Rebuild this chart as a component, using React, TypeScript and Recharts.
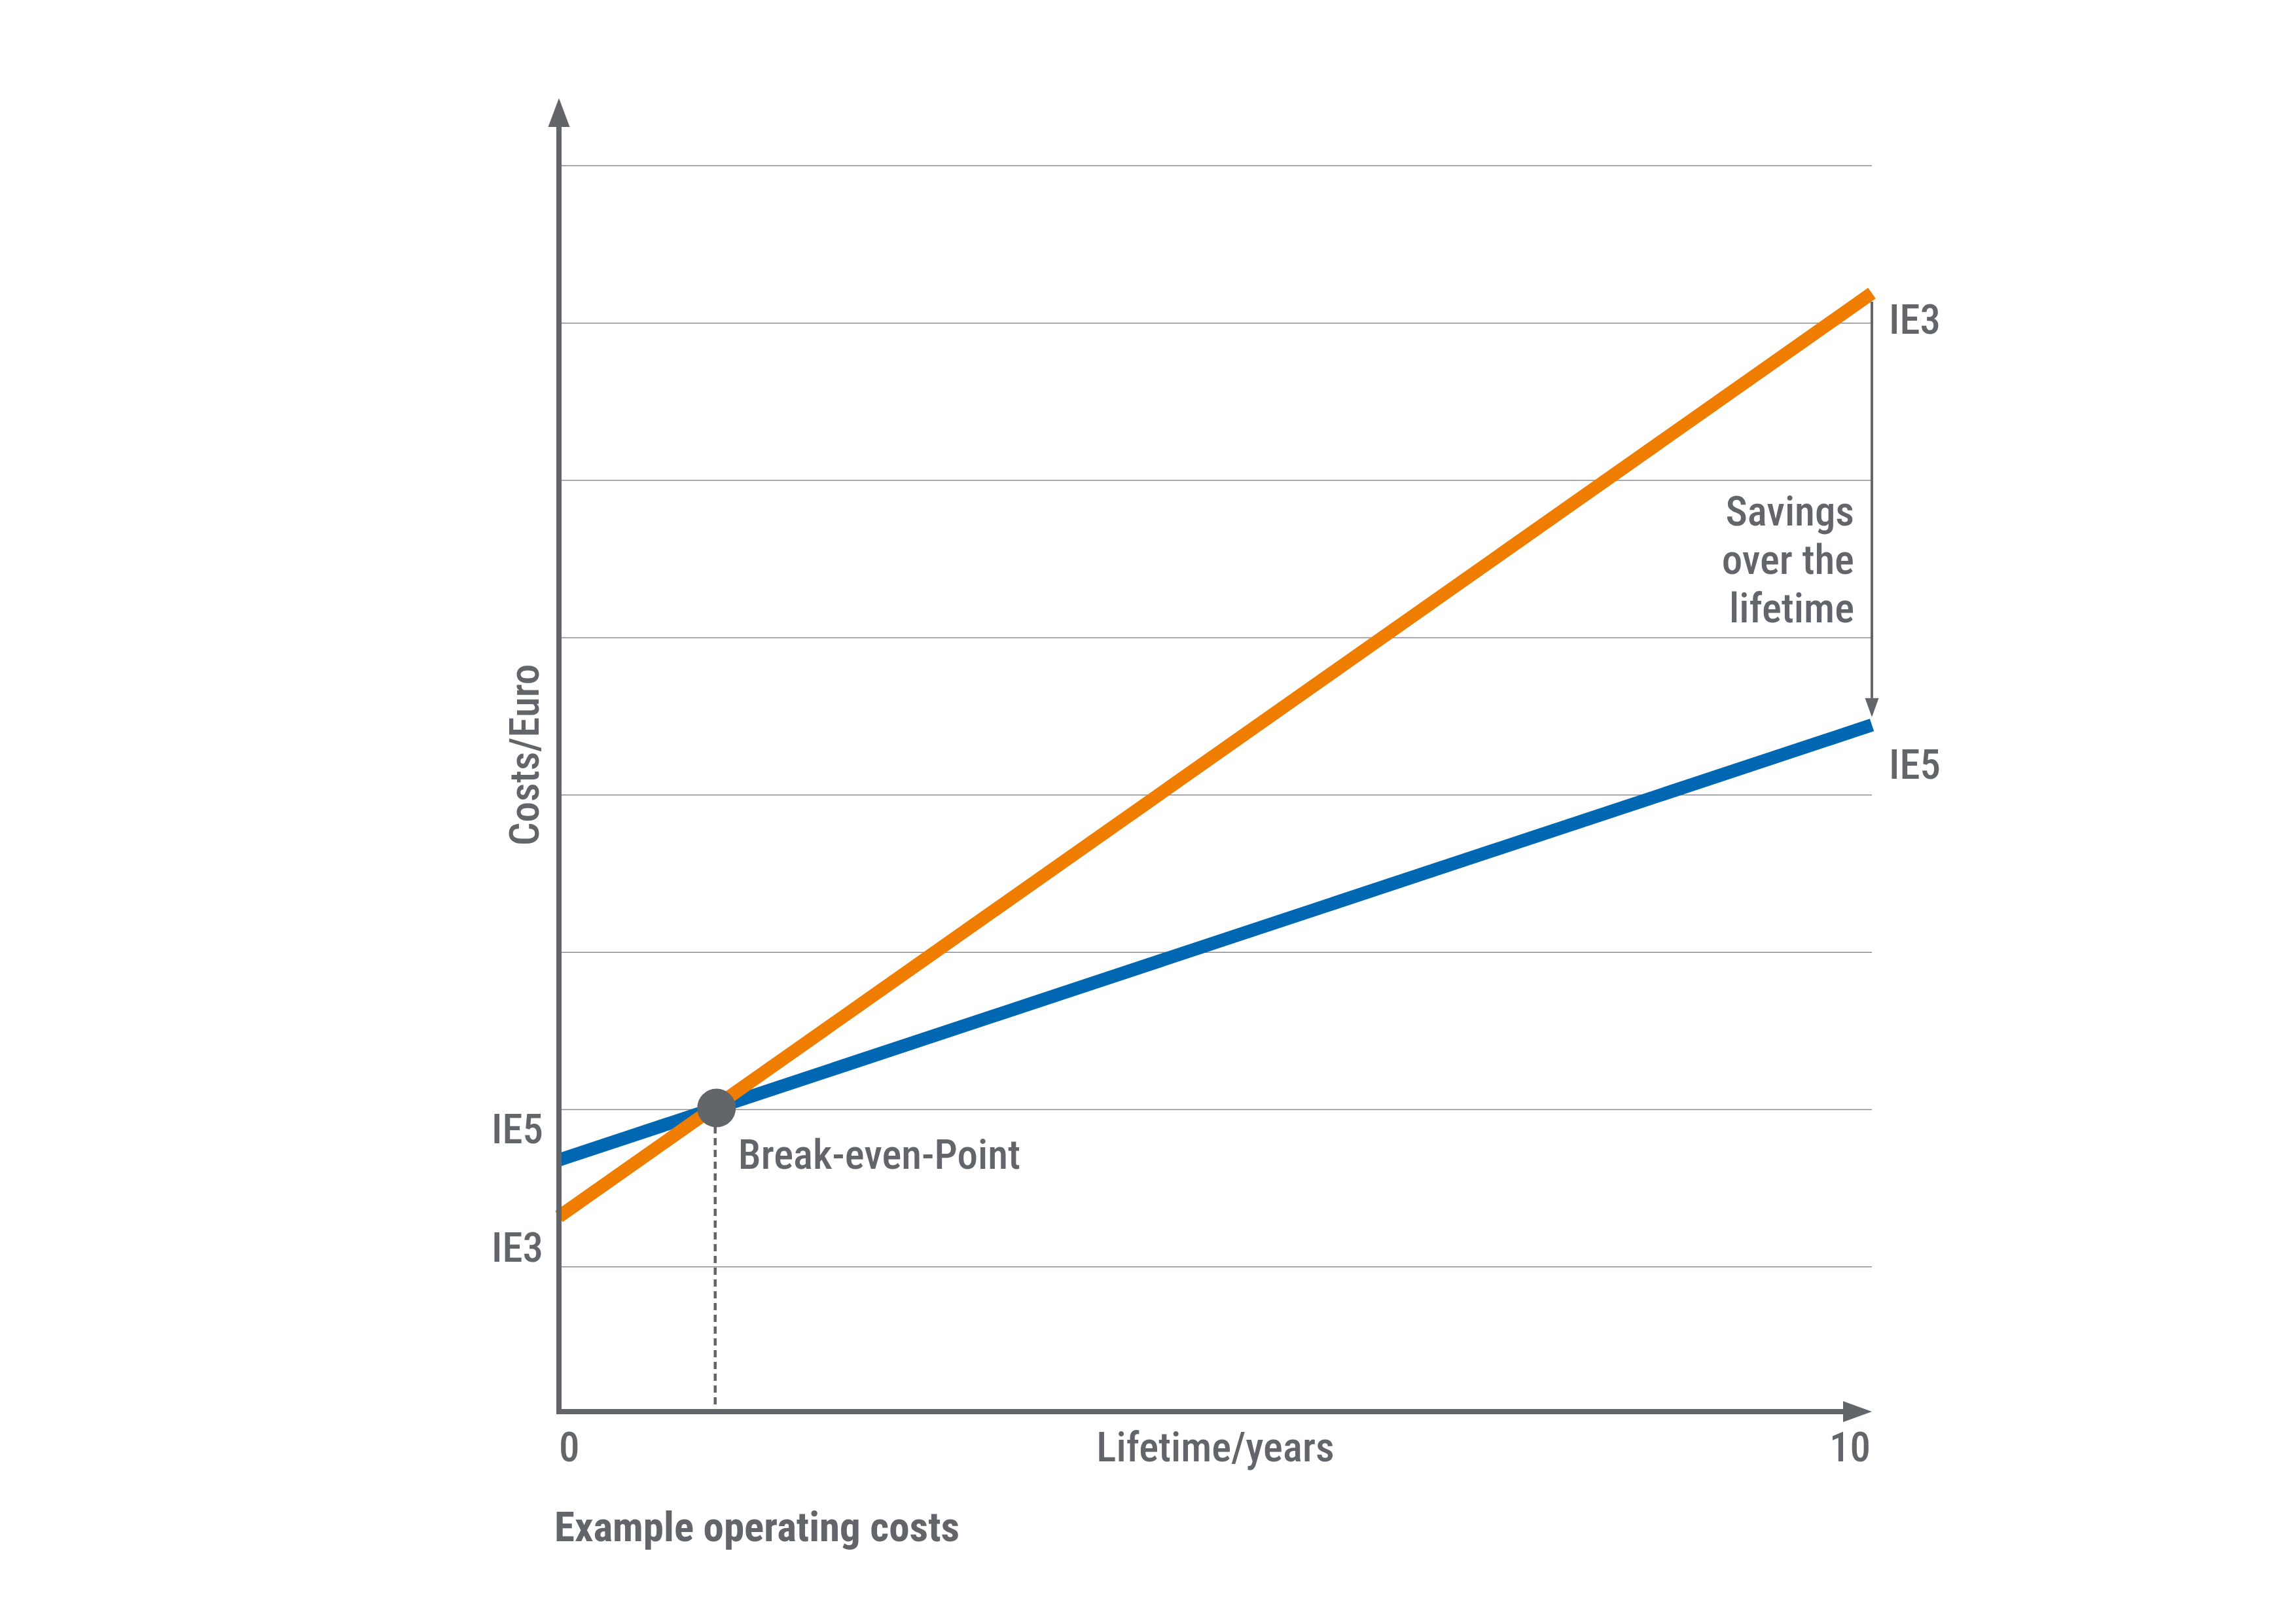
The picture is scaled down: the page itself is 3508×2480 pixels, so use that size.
import React from 'react';
import { LineChart, Line, XAxis, YAxis, CartesianGrid, ReferenceLine, ReferenceDot } from 'recharts';

// ---- data ----
const years = [0, 10];
const ie3Costs = [1320, 7190];
const ie5Costs = [1680, 4445];
const gridCosts = [1000, 2000, 3000, 4000, 5000, 6000, 7000, 8000];
const yearTicks = [0, 10];
const costDomain = [80, 8430];
const breakEvenYear = 1.2;
const breakEvenCost = 2010;
const seriesNames = ['IE3', 'IE5'];
const xAxisTitle = 'Lifetime/years';
const yAxisTitle = 'Costs/Euro';
const caption = 'Example operating costs';
const breakEvenLabel = 'Break-even-Point';
const savingsLabel = ['Savings', 'over the', 'lifetime'];

const data = years.map((y, i) => ({ year: y, ie3: ie3Costs[i], ie5: ie5Costs[i] }));

const ORANGE = '#ef7d00';
const BLUE = '#0067b2';
const GREY = '#62666a';
const GRID = '#8a8d90';
const FONT = '"Liberation Sans Narrow", "Arial Narrow", "Roboto Condensed", "DejaVu Sans Condensed", sans-serif';
const FS = 63;

const W = 3508;
const H = 2480;
const YW = 100;
const XH = 100;

const txt = (x: number, y: number, s: string, anchor: string = 'start', bold = false, key?: string) => (
  <text key={key} x={x} y={y} textAnchor={anchor} fill={GREY} fontFamily={FONT} fontSize={FS} fontWeight={bold ? 700 : 500}>
    {s}
  </text>
);

const YAxisShape = (p: any) => {
  const x = p.x1;
  const top = Math.min(p.y1, p.y2);
  const bottom = Math.max(p.y1, p.y2);
  return (
    <g>
      <line x1={x} x2={x} y1={top + 44} y2={bottom + 4} stroke={GREY} strokeWidth={8} />
      <polygon points={`${x},${top} ${x - 16.5},${top + 44} ${x + 16.5},${top + 44}`} fill={GREY} />
    </g>
  );
};

const XAxisShape = (p: any) => {
  const y = p.y1;
  const left = Math.min(p.x1, p.x2);
  const right = Math.max(p.x1, p.x2);
  return (
    <g>
      <line x1={left - 4} x2={right - 44} y1={y} y2={y} stroke={GREY} strokeWidth={8} />
      <polygon points={`${right},${y} ${right - 44},${y - 16} ${right - 44},${y + 16}`} fill={GREY} />
    </g>
  );
};

const DashShape = (p: any) => (
  <line
    x1={p.x1 - 2}
    x2={p.x2 - 2}
    y1={Math.min(p.y1, p.y2) + 28}
    y2={Math.max(p.y1, p.y2) - 4}
    stroke={GREY}
    strokeWidth={4.5}
    strokeDasharray="11 7"
  />
);

const SavingsShape = (p: any) => {
  const x = p.x1;
  const top = Math.min(p.y1, p.y2);
  const bottom = Math.max(p.y1, p.y2);
  return (
    <g>
      <line x1={x} x2={x} y1={top + 13} y2={bottom - 41} stroke={GREY} strokeWidth={4} />
      <polygon points={`${x},${bottom - 12} ${x - 10.5},${bottom - 41} ${x + 10.5},${bottom - 41}`} fill={GREY} />
      {savingsLabel.map((s, i) => txt(x - 27, top + 355 + i * 74, s, 'end', false, s))}
    </g>
  );
};

const BreakEvenShape = (p: any) => (
  <g>
    <circle cx={p.cx} cy={p.cy} r={29.5} fill={GREY} />
    {txt(p.cx + 33, p.cy + 93, breakEvenLabel)}
  </g>
);

const labelShape = (dx: number, dy: number, s: string, anchor: string) => (p: any) => (
  <g>{txt(p.cx + dx, p.cy + dy, s, anchor)}</g>
);

const XTick = (p: any) => {
  const v = p.payload.value;
  const isFirst = v === yearTicks[0];
  return txt(isFirst ? p.x : p.x - 2, p.y + 76, String(v), isFirst ? 'start' : 'end');
};

const NoTick = () => <g />;

const XLabel = (p: any) => {
  const vb = p.viewBox || {};
  return (
    <g>
      {txt(vb.x + vb.width / 2, vb.y + 76, xAxisTitle, 'middle')}
      {txt(vb.x - 7, vb.y + 198, caption, 'start', true)}
    </g>
  );
};

const YLabel = (p: any) => {
  const vb = p.viewBox || {};
  const x = vb.x + vb.width - 31;
  const y = vb.y + vb.height / 2;
  return (
    <text x={x} y={y} transform={`rotate(-90 ${x} ${y})`} textAnchor="middle" fill={GREY} fontFamily={FONT} fontSize={FS} fontWeight={500}>
      {yAxisTitle}
    </text>
  );
};

export default function App() {
  return (
    <div style={{ position: 'absolute', left: 0, top: 0, width: W, height: H, background: '#fff' }}>
      <LineChart
        width={W}
        height={H}
        data={data}
        margin={{ top: 150, right: W - 2860, bottom: H - 2157 - XH, left: 854 - YW }}
      >
        <CartesianGrid vertical={false} horizontal={true} stroke={GRID} strokeWidth={1.5} syncWithTicks />
        <XAxis
          dataKey="year"
          type="number"
          domain={[years[0], years[1]]}
          ticks={yearTicks}
          interval={0}
          height={XH}
          axisLine={false}
          tickLine={false}
          tickSize={0}
          tickMargin={0}
          tick={<XTick />}
          label={<XLabel />}
        />
        <YAxis
          type="number"
          domain={costDomain}
          ticks={gridCosts}
          interval={0}
          width={YW}
          axisLine={false}
          tickLine={false}
          tick={<NoTick />}
          label={<YLabel />}
        />
        <ReferenceLine
          segment={[{ x: breakEvenYear, y: breakEvenCost }, { x: breakEvenYear, y: costDomain[0] }]}
          shape={<DashShape />}
        />
        <Line dataKey="ie5" name={seriesNames[1]} stroke={BLUE} strokeWidth={20} dot={false} activeDot={false} isAnimationActive={false} />
        <Line dataKey="ie3" name={seriesNames[0]} stroke={ORANGE} strokeWidth={20} dot={false} activeDot={false} isAnimationActive={false} />
        <ReferenceLine segment={[{ x: years[0], y: costDomain[0] }, { x: years[0], y: costDomain[1] }]} shape={<YAxisShape />} />
        <ReferenceLine segment={[{ x: years[0], y: costDomain[0] }, { x: years[1], y: costDomain[0] }]} shape={<XAxisShape />} />
        <ReferenceLine segment={[{ x: years[1], y: ie3Costs[1] }, { x: years[1], y: ie5Costs[1] }]} shape={<SavingsShape />} />
        <ReferenceDot x={breakEvenYear} y={breakEvenCost} shape={<BreakEvenShape />} />
        <ReferenceDot x={years[0]} y={ie5Costs[0]} shape={labelShape(-24, -25, seriesNames[1], 'end')} />
        <ReferenceDot x={years[0]} y={ie3Costs[0]} shape={labelShape(-24, 69, seriesNames[0], 'end')} />
        <ReferenceDot x={years[1]} y={ie3Costs[1]} shape={labelShape(26, 62, seriesNames[0], 'start')} />
        <ReferenceDot x={years[1]} y={ie5Costs[1]} shape={labelShape(26, 82, seriesNames[1], 'start')} />
      </LineChart>
    </div>
  );
}
